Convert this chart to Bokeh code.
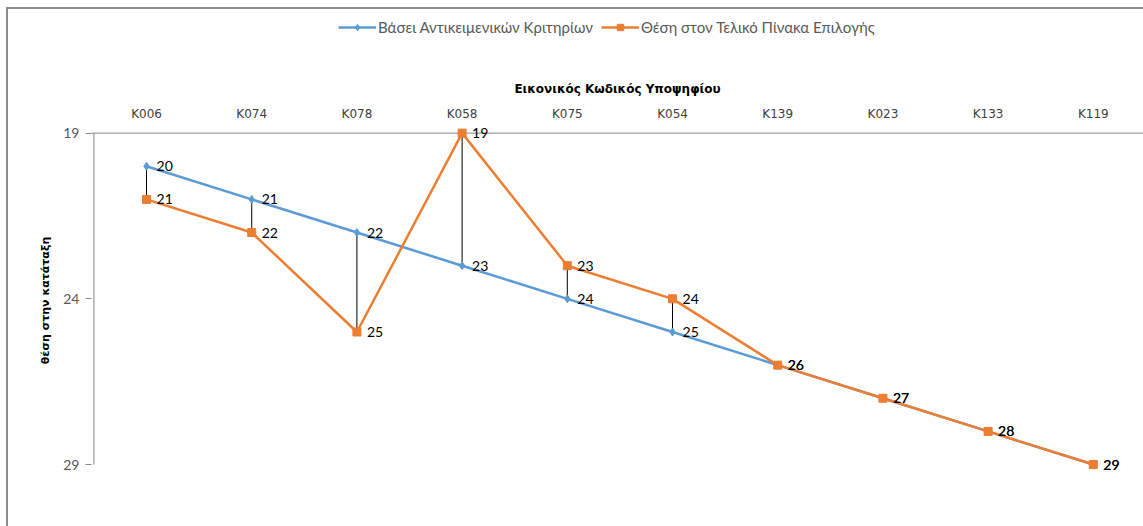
from bokeh.plotting import figure
from bokeh.layouts import column
from bokeh.models import (Range1d, LinearAxis, FixedTicker, ColumnDataSource, LabelSet,
                          Legend, LegendItem)
from bokeh.core.properties import value
from bokeh.embed import file_html
from bokeh.resources import INLINE

categories = ["K006", "K074", "K078", "K058", "K075", "K054", "K139", "K023", "K133", "K119"]
objective_rank = [20, 21, 22, 23, 24, 25, 26, 27, 28, 29]
final_rank = [21, 22, 25, 19, 23, 24, 26, 27, 28, 29]
y_ticks = [19, 24, 29]

name_blue = "Βάσει Αντικειμενικών Κριτηρίων"
name_orange = "Θέση στον Τελικό Πίνακα Επιλογής"
x_title = "Εικονικός Κωδικός Υποψηφίου"
y_title = "θέση στην κατάταξη"

BLUE = "#5B9BD5"
ORANGE = "#ED7D31"
GRAYB = "#8c8c8c"
FONT = "Lato"
X0, X1 = -0.523, 9.477
TOP_H = 48

xs = list(range(len(categories)))
src = ColumnDataSource(dict(x=xs, blue=objective_rank, orange=final_rank,
                            bl=[str(v) for v in objective_rank],
                            ol=[str(v) for v in final_rank]))

# ---- legend strip (top) ----
lg = figure(width=1143, height=TOP_H, output_backend="svg", toolbar_location=None,
            x_range=Range1d(0, 1), y_range=Range1d(0, 1),
            x_axis_location=None, y_axis_location=None,
            min_border_left=0, min_border_right=0, min_border_top=0, min_border_bottom=0)
lg.outline_line_color = None
lg.xgrid.visible = False
lg.ygrid.visible = False
lg.background_fill_alpha = 0
lg.border_fill_alpha = 0
lg.styles = {
    "background-color": "white",
    "background-image": f"linear-gradient({GRAYB}, {GRAYB}), linear-gradient({GRAYB}, {GRAYB})",
    "background-size": "2px 100%, 100% 2px",
    "background-position": "6px 7px, 6px 7px",
    "background-repeat": "no-repeat",
}
# legend-key renderers: one point placed outside the visible strip
offscreen = ColumnDataSource(dict(x=[5], y=[5]))
lbl = lg.line("x", "y", source=offscreen, line_color=BLUE, line_width=2.5)
lbm = lg.scatter("x", "y", source=offscreen, marker="diamond", size=8, fill_color=BLUE, line_color=BLUE)
lol = lg.line("x", "y", source=offscreen, line_color=ORANGE, line_width=2.5)
lom = lg.scatter("x", "y", source=offscreen, marker="square", size=8, fill_color=ORANGE, line_color=ORANGE)
legend = Legend(items=[LegendItem(label=name_blue, renderers=[lbl, lbm]),
                       LegendItem(label=name_orange, renderers=[lol, lom])],
                orientation="horizontal", location=(247, 12),
                label_text_font=FONT, label_text_font_size="15px", label_text_color="#595959",
                glyph_width=38, glyph_height=16, label_height=16, label_standoff=2, spacing=8,
                border_line_color=None, background_fill_alpha=0, padding=0, margin=0)
lg.add_layout(legend, "center")

# ---- main chart ----
p = figure(width=1143, height=526 - TOP_H, output_backend="svg", toolbar_location=None,
           x_range=Range1d(X0, X1), y_range=Range1d(29.3, 18.8),
           x_axis_location=None, y_axis_location=None,
           min_border_left=91, min_border_right=0, min_border_top=126 - TOP_H, min_border_bottom=52)
p.outline_line_color = None
p.xgrid.visible = False
p.ygrid.visible = False
p.background_fill_color = "white"
p.border_fill_alpha = 0
p.styles = {
    "background-color": "white",
    "background-image": f"linear-gradient({GRAYB}, {GRAYB})",
    "background-size": "2px 100%",
    "background-position": "6px 0px",
    "background-repeat": "no-repeat",
}

# left axis
yax = LinearAxis(ticker=FixedTicker(ticks=y_ticks), axis_label=y_title)
yax.axis_line_color = None
yax.major_tick_line_color = "#868686"
yax.major_tick_out = 6
yax.major_tick_in = 0
yax.minor_tick_line_color = None
yax.major_label_text_font = FONT
yax.major_label_text_font_size = "14px"
yax.major_label_text_color = "#595959"
yax.major_label_standoff = 6
yax.axis_label_text_font = "DejaVu Sans"
yax.axis_label_text_font_style = "bold"
yax.axis_label_text_font_size = "11px"
yax.axis_label_text_color = "#000000"
yax.axis_label_standoff = 8
p.add_layout(yax, "left")

# top category axis
xax = LinearAxis(ticker=FixedTicker(ticks=xs), axis_label=x_title,
                 major_label_overrides={i: c for i, c in enumerate(categories)})
xax.axis_line_color = None
xax.major_tick_line_color = None
xax.minor_tick_line_color = None
xax.major_tick_out = 0
xax.major_tick_in = 0
xax.major_label_text_font = "DejaVu Sans"
xax.major_label_text_font_size = "12px"
xax.major_label_text_color = "#404040"
xax.major_label_standoff = 6
xax.axis_label_text_font = "DejaVu Sans"
xax.axis_label_text_font_style = "bold"
xax.axis_label_text_font_size = "12px"
xax.axis_label_text_color = "#000000"
xax.axis_label_standoff = 8
p.add_layout(xax, "above")

# axis lines drawn at data positions
p.segment(x0=[-0.5], y0=[y_ticks[0]], x1=[-0.5], y1=[y_ticks[-1]], line_color="#868686", line_width=1)
p.segment(x0=[X0], y0=[y_ticks[0]], x1=[X1], y1=[y_ticks[0]], line_color="#868686", line_width=1)

# drop lines
p.segment(x0="x", y0="blue", x1="x", y1="orange", source=src, line_color="black", line_width=1)

p.line("x", "blue", source=src, line_color=BLUE, line_width=2.5)
p.scatter("x", "blue", source=src, marker="diamond", size=8, fill_color=BLUE, line_color=BLUE)
p.line("x", "orange", source=src, line_color=ORANGE, line_width=2.5)
p.scatter("x", "orange", source=src, marker="square", size=8, fill_color=ORANGE, line_color=ORANGE)

for col, yc in [("bl", "blue"), ("ol", "orange")]:
    ls = LabelSet(x="x", y=yc, text=col, source=src, x_offset=10, y_offset=0,
                  text_baseline="middle", text_align="left", text_font=value(FONT),
                  text_font_size="14px", text_color="#000000")
    p.add_layout(ls)

layout = column(lg, p)
open("out.html", "w").write(file_html(layout, INLINE))
